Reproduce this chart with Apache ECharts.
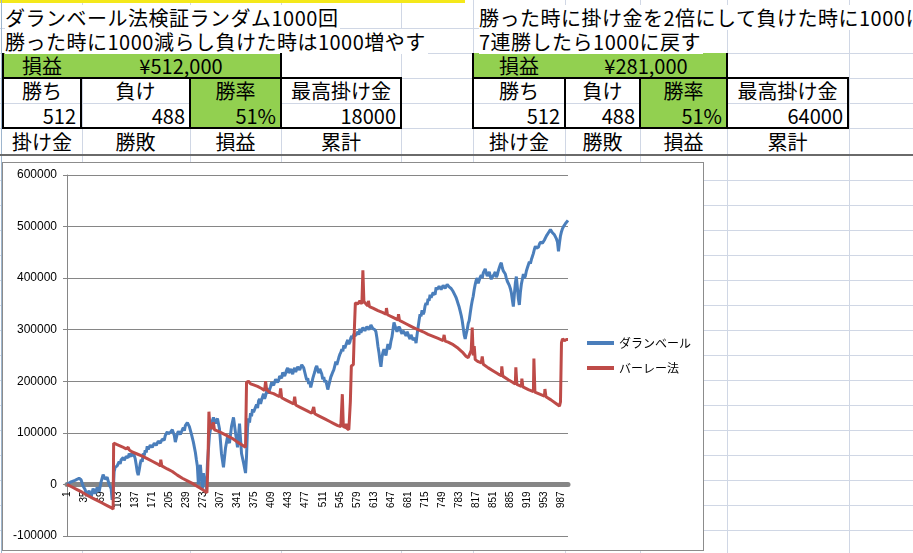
<!DOCTYPE html>
<html>
<head>
<meta charset="utf-8">
<script src="https://cdn.jsdelivr.net/npm/echarts@6/dist/echarts.min.js"></script>
<style>
  html, body { margin: 0; padding: 0; }
  body {
    width: 913px; height: 553px; overflow: hidden; position: relative;
    background: #fff; font-family: 'Noto Sans CJK JP', sans-serif; color: #000;
  }
  .gl { position: absolute; background: #d0d7e5; }
  .c {
    position: absolute; height: 25px; line-height: 25px; font-size: 20px;
    white-space: nowrap; box-sizing: border-box;
  }
  .ctr { text-align: center; }
  .rt { text-align: right; padding-right: 5px; }
  .title { background: #fff; letter-spacing: 0.5px; padding-right: 2px; }
  .green { position: absolute; background: #92d050; }
  .bl { position: absolute; background: #000; }
  #chartBox {
    position: absolute; left: 2px; top: 162px; width: 702px; height: 389px;
    border: 1px solid #8c8c8c; box-sizing: border-box; background: #fff;
  }
  #chart { width: 700px; height: 387px; }
</style>
</head>
<body>
<div id="sheet"></div>

<!-- yellow selection edge -->
<div style="position:absolute;left:0;top:0;width:465px;height:3px;background:#f4e81a;"></div>
<div style="position:absolute;left:1px;top:0;width:1px;height:553px;background:#9eb6ce;"></div>

<!-- green fills -->
<div class="green" style="left:3px;top:53px;width:278px;height:25px;"></div>
<div class="green" style="left:190px;top:78px;width:91px;height:50px;"></div>
<div class="green" style="left:473px;top:53px;width:254px;height:25px;"></div>
<div class="green" style="left:640px;top:78px;width:87px;height:50px;"></div>

<!-- left block -->
<div class="c title" style="left:5px;top:5px;">ダランベール法検証ランダム1000回</div>
<div class="c title" style="left:5px;top:29px;">勝った時に1000減らし負けた時は1000増やす</div>
<div class="c ctr" style="left:3px;top:53px;width:78px;">損益</div>
<div class="c ctr" style="left:81px;top:53px;width:200px;">¥512,000</div>
<div class="c ctr" style="left:3px;top:78px;width:78px;">勝ち</div>
<div class="c ctr" style="left:81px;top:78px;width:109px;">負け</div>
<div class="c ctr" style="left:190px;top:78px;width:91px;">勝率</div>
<div class="c ctr" style="left:281px;top:78px;width:120px;">最高掛け金</div>
<div class="c rt" style="left:3px;top:103px;width:78px;">512</div>
<div class="c rt" style="left:81px;top:103px;width:109px;">488</div>
<div class="c rt" style="left:190px;top:103px;width:91px;">51%</div>
<div class="c rt" style="left:281px;top:103px;width:120px;">18000</div>
<div class="c ctr" style="left:3px;top:129px;width:78px;">掛け金</div>
<div class="c ctr" style="left:81px;top:129px;width:109px;">勝敗</div>
<div class="c ctr" style="left:190px;top:129px;width:91px;">損益</div>
<div class="c ctr" style="left:281px;top:129px;width:120px;">累計</div>

<!-- right block -->
<div class="c title" style="left:479px;top:5px;">勝った時に掛け金を2倍にして負けた時に1000に戻す</div>
<div class="c title" style="left:479px;top:29px;">7連勝したら1000に戻す</div>
<div class="c ctr" style="left:473px;top:53px;width:92px;">損益</div>
<div class="c ctr" style="left:565px;top:53px;width:162px;">¥281,000</div>
<div class="c ctr" style="left:473px;top:78px;width:92px;">勝ち</div>
<div class="c ctr" style="left:565px;top:78px;width:75px;">負け</div>
<div class="c ctr" style="left:640px;top:78px;width:87px;">勝率</div>
<div class="c ctr" style="left:727px;top:78px;width:121px;">最高掛け金</div>
<div class="c rt" style="left:473px;top:103px;width:92px;">512</div>
<div class="c rt" style="left:565px;top:103px;width:75px;">488</div>
<div class="c rt" style="left:640px;top:103px;width:87px;">51%</div>
<div class="c rt" style="left:727px;top:103px;width:121px;">64000</div>
<div class="c ctr" style="left:473px;top:129px;width:92px;">掛け金</div>
<div class="c ctr" style="left:565px;top:129px;width:75px;">勝敗</div>
<div class="c ctr" style="left:640px;top:129px;width:87px;">損益</div>
<div class="c ctr" style="left:727px;top:129px;width:121px;">累計</div>

<!-- table borders -->
<div class="bl" style="left:2px;top:77px;width:400px;height:2px;"></div>
<div class="bl" style="left:2px;top:127px;width:400px;height:2px;"></div>
<div class="bl" style="left:2px;top:53px;width:2px;height:75px;"></div>
<div class="bl" style="left:80px;top:78px;width:2px;height:50px;"></div>
<div class="bl" style="left:189px;top:78px;width:2px;height:50px;"></div>
<div class="bl" style="left:280px;top:53px;width:2px;height:75px;"></div>
<div class="bl" style="left:400px;top:78px;width:2px;height:50px;"></div>
<div class="bl" style="left:472px;top:77px;width:377px;height:2px;"></div>
<div class="bl" style="left:472px;top:127px;width:377px;height:2px;"></div>
<div class="bl" style="left:472px;top:53px;width:2px;height:75px;"></div>
<div class="bl" style="left:564px;top:78px;width:2px;height:50px;"></div>
<div class="bl" style="left:639px;top:78px;width:2px;height:50px;"></div>
<div class="bl" style="left:726px;top:53px;width:2px;height:75px;"></div>
<div class="bl" style="left:847px;top:78px;width:2px;height:50px;"></div>

<div style="position:absolute;left:0;top:154px;width:913px;height:2px;background:#6a6a6a;"></div>

<div id="chartBox"><div id="chart"></div></div>

<script>
// 1..1000 trial numbers
const categories = Array.from({ length: 1000 }, (_, i) => String(i + 1));

// [trial index, cumulative profit]
const dalembert = [
  [0,0],[8,5000],[16,8000],[24,12000],[28,9000],[32,-3000],[36,-10000],[40,-22000],[44,-12000],[48,-25000],
  [52,-8000],[56,-18000],[60,-6000],[64,-14000],[68,5000],[72,19000],[76,10000],[80,14000],[84,0],[88,-8000],
  [90,-30000],[92,-18000],[94,25000],[96,33000],[98,30000],[100,36000],[102,34000],[104,44000],[106,40000],[108,48000],
  [110,45000],[112,52000],[114,47000],[116,50000],[118,54000],[120,56000],[122,52000],[124,60000],[126,57000],[128,54000],
  [130,60000],[132,62000],[134,56000],[136,50000],[138,38000],[140,25000],[142,18000],[144,28000],[146,40000],[148,48000],
  [150,44000],[152,60000],[154,56000],[156,66000],[158,62000],[160,74000],[162,68000],[164,70000],[166,76000],[168,79000],
  [170,72000],[172,75000],[174,80000],[176,82000],[178,76000],[180,78000],[182,84000],[184,86000],[186,80000],[188,83000],
  [190,88000],[192,90000],[194,86000],[196,95000],[198,92000],[200,102000],[202,98000],[204,96000],[206,101000],[208,100000],
  [210,106000],[212,104000],[214,95000],[216,82000],[218,90000],[220,98000],[222,103000],[224,106000],[226,97000],[228,100000],
  [230,106000],[232,110000],[234,104000],[236,114000],[238,116000],[240,120000],[242,118000],[244,112000],[248,98000],[252,82000],
  [256,62000],[258,48000],[260,35000],[262,0],[264,25000],[266,38000],[268,12000],[270,-8000],[272,22000],[274,6000],
  [276,15000],[278,-10000],[280,40000],[284,95000],[288,118000],[292,130000],[296,118000],[300,128000],[304,108000],[308,60000],
  [312,33000],[316,70000],[320,92000],[324,80000],[328,112000],[332,130000],[336,100000],[340,72000],[344,118000],[348,60000],
  [352,42000],[356,22000],[358,55000],[360,110000],[362,128000],[364,120000],[366,138000],[368,132000],[370,146000],[372,140000],
  [374,138000],[376,150000],[378,155000],[380,148000],[382,162000],[384,166000],[386,156000],[388,164000],[390,170000],[392,176000],
  [394,166000],[396,172000],[398,180000],[400,186000],[402,176000],[404,184000],[406,190000],[408,198000],[410,200000],[412,192000],
  [414,194000],[416,204000],[418,206000],[420,198000],[422,202000],[424,210000],[426,212000],[428,206000],[430,217000],[432,220000],
  [434,210000],[436,216000],[438,222000],[440,226000],[442,216000],[444,220000],[446,224000],[448,218000],[450,214000],[452,222000],
  [454,226000],[456,218000],[458,220000],[460,228000],[462,230000],[464,222000],[466,224000],[468,232000],[470,234000],[472,226000],
  [474,218000],[476,210000],[478,202000],[480,206000],[482,195000],[484,200000],[486,188000],[488,196000],[490,205000],[492,212000],
  [494,218000],[496,226000],[498,230000],[500,222000],[502,216000],[504,224000],[506,226000],[508,214000],[510,204000],[512,208000],
  [514,198000],[516,202000],[518,205000],[520,184000],[522,192000],[524,200000],[526,208000],[528,213000],[530,218000],[532,222000],
  [534,230000],[536,238000],[538,232000],[540,234000],[542,246000],[544,252000],[546,256000],[548,262000],[550,258000],[552,270000],
  [554,264000],[556,266000],[558,276000],[560,280000],[562,272000],[564,276000],[566,284000],[568,288000],[570,282000],[572,292000],
  [574,288000],[576,285000],[578,292000],[580,296000],[582,290000],[584,302000],[586,294000],[588,297000],[590,304000],[592,306000],
  [594,298000],[596,300000],[598,306000],[600,308000],[602,300000],[604,302000],[606,309000],[608,310000],[610,302000],[612,305000],
  [614,300000],[616,296000],[618,284000],[620,268000],[622,256000],[624,240000],[626,228000],[628,246000],[630,256000],[632,262000],
  [634,256000],[636,250000],[638,262000],[640,272000],[642,262000],[644,266000],[646,278000],[648,286000],[650,300000],[652,314000],
  [654,308000],[656,305000],[658,296000],[660,298000],[662,306000],[664,302000],[666,296000],[668,292000],[670,298000],[672,300000],
  [674,292000],[676,288000],[678,296000],[680,292000],[682,286000],[684,282000],[686,290000],[688,288000],[690,280000],[692,278000],
  [694,284000],[696,274000],[698,290000],[700,304000],[702,318000],[704,330000],[706,326000],[708,338000],[710,330000],[712,334000],
  [714,346000],[716,352000],[718,348000],[720,360000],[722,356000],[724,368000],[726,362000],[728,364000],[730,372000],[732,374000],
  [734,368000],[736,382000],[738,378000],[740,376000],[742,384000],[744,385000],[746,378000],[748,380000],[750,386000],[752,388000],
  [754,380000],[756,382000],[758,388000],[760,390000],[762,383000],[764,385000],[766,380000],[768,378000],[770,374000],[772,371000],
  [774,366000],[776,362000],[778,356000],[780,350000],[782,344000],[784,336000],[786,328000],[788,318000],[790,304000],[792,290000],
  [794,282000],[796,292000],[798,300000],[800,312000],[802,318000],[804,332000],[806,345000],[808,356000],[810,365000],[812,378000],
  [814,388000],[816,396000],[818,400000],[820,390000],[822,392000],[824,402000],[826,406000],[828,400000],[830,410000],[832,414000],
  [834,418000],[836,410000],[838,404000],[840,408000],[842,412000],[844,404000],[846,398000],[848,402000],[850,400000],[852,408000],
  [854,412000],[856,402000],[858,406000],[860,414000],[862,420000],[864,426000],[866,430000],[868,420000],[870,414000],[872,416000],
  [874,408000],[876,400000],[878,394000],[880,392000],[882,386000],[884,380000],[886,372000],[888,358000],[890,345000],[892,368000],
  [894,390000],[896,403000],[898,382000],[900,360000],[902,348000],[904,372000],[906,388000],[908,398000],[910,408000],[912,400000],
  [914,404000],[916,414000],[918,420000],[920,426000],[922,432000],[924,428000],[926,436000],[928,442000],[930,448000],[932,456000],
  [934,462000],[936,458000],[938,455000],[940,460000],[942,466000],[944,470000],[946,472000],[948,468000],[950,466000],[952,474000],
  [954,478000],[956,482000],[958,484000],[960,488000],[962,489000],[964,494000],[966,492000],[968,488000],[970,486000],[972,484000],
  [974,480000],[976,476000],[978,470000],[980,452000],[982,468000],[984,482000],[986,490000],[988,496000],[990,500000],[992,502000],
  [994,506000],[996,508000],[999,512000]
];

const parlay = [
  [0,0],[10,-5000],[20,-10000],[30,-15000],[40,-21000],[50,-26000],[60,-31000],[70,-36000],[80,-41000],[88,-45000],
  [92,-48000],[93,80000],[96,79000],[100,77000],[110,73000],[118,69000],[122,72000],[124,67000],[130,63000],[140,59000],
  [150,55000],[160,50000],[170,45000],[180,40000],[186,36000],[187,48000],[189,36000],[190,35000],[200,30000],[210,25000],
  [220,18000],[230,12000],[240,7000],[250,2000],[260,-4000],[270,-10000],[279,-16000],[281,40000],[283,141000],[285,112000],
  [288,108000],[290,110000],[292,120000],[294,106000],[300,104000],[310,99000],[320,94000],[330,89000],[340,82000],[350,76000],
  [356,72000],[358,198000],[362,200000],[366,195000],[372,193000],[380,190000],[388,186000],[394,182000],[396,200000],[398,184000],
  [405,178000],[412,176000],[420,172000],[424,170000],[426,186000],[428,168000],[436,164000],[444,160000],[452,156000],[454,170000],
  [456,154000],[464,150000],[472,146000],[480,142000],[488,138000],[492,150000],[494,137000],[500,134000],[508,130000],[516,126000],
  [524,122000],[532,118000],[540,114000],[546,112000],[549,175000],[551,112000],[556,110000],[557,118000],[558,109000],[562,106000],
  [565,160000],[567,230000],[571,232000],[573,300000],[575,352000],[580,350000],[584,356000],[588,350000],[590,415000],[592,355000],
  [596,350000],[600,346000],[601,356000],[603,345000],[610,342000],[620,337000],[630,333000],[636,330000],[637,342000],[639,329000],
  [650,324000],[660,319000],[661,330000],[663,318000],[675,312000],[685,307000],[695,302000],[700,300000],[710,296000],[720,291000],
  [730,287000],[740,283000],[750,279000],[752,290000],[754,278000],[760,276000],[770,271000],[780,264000],[790,255000],[796,248000],
  [800,246000],[806,260000],[808,304000],[810,250000],[812,268000],[814,242000],[820,238000],[826,236000],[828,248000],[830,233000],
  [840,226000],[850,220000],[860,214000],[866,211000],[867,229000],[869,210000],[880,203000],[890,197000],[894,195000],[895,227000],
  [897,194000],[906,190000],[907,205000],[909,189000],[920,184000],[930,180000],[931,244000],[933,179000],[945,174000],[952,171000],
  [953,185000],[955,170000],[965,164000],[975,157000],[982,152000],[984,160000],[986,275000],[988,282000],[992,279000],[996,281000],
  [999,281000]
];

const yTicks = { min: -100000, max: 600000, step: 100000 };

// spreadsheet grid behind everything
const colLines = [82, 190, 281, 401, 473, 565, 640, 727, 849];
const rowLines = [28, 53, 78, 103, 128, 180, 205, 230, 255, 280, 305, 330, 355, 380, 405, 430, 455, 480, 505, 530, 555];
const sheet = document.getElementById('sheet');
colLines.forEach(x => {
  const d = document.createElement('div');
  d.className = 'gl';
  d.style.cssText = `left:${x}px;top:0;width:1px;height:553px;`;
  sheet.appendChild(d);
});
rowLines.forEach(y => {
  const d = document.createElement('div');
  d.className = 'gl';
  d.style.cssText = `left:0;top:${y}px;width:913px;height:1px;`;
  sheet.appendChild(d);
});

// plot box inside the chart div
const plot = { left: 64, right: 135, top: 12, bottom: 14, width: 700, height: 387 };
const plotH = plot.height - plot.top - plot.bottom;
// the category axis sits on the zero line: lift it from the bottom edge
const zeroLift = plotH * (0 - yTicks.min) / (yTicks.max - yTicks.min);

const chart = echarts.init(document.getElementById('chart'));
chart.setOption({
  animation: false,
  grid: { left: plot.left, right: plot.right, top: plot.top, bottom: plot.bottom, containLabel: false, outerBoundsMode: 'none' },
  legend: {
    orient: 'vertical',
    left: 579,
    top: 167,
    icon: 'rect',
    itemWidth: 27,
    itemHeight: 4,
    itemGap: 9,
    textStyle: { fontFamily: 'Noto Sans CJK JP', fontSize: 12, color: '#000', lineHeight: 16 },
    data: ['ダランベール', 'バーレー法']
  },
  xAxis: {
    type: 'category',
    data: categories,
    boundaryGap: false,
    position: 'bottom',
    offset: -zeroLift,
    axisLine: { onZero: false, lineStyle: { color: '#868686', width: 5 } },
    axisTick: { show: false },
    axisLabel: {
      interval: 33, rotate: 90, margin: 7,
      fontFamily: 'Liberation Sans', fontSize: 10, color: '#000'
    },
    splitLine: { show: false }
  },
  yAxis: {
    type: 'value',
    min: yTicks.min,
    max: yTicks.max,
    interval: yTicks.step,
    axisLine: { show: true, lineStyle: { color: '#868686' } },
    axisTick: { show: true, length: 4, lineStyle: { color: '#868686' } },
    axisLabel: {
      margin: 10, fontFamily: 'Liberation Sans', fontSize: 12, color: '#000',
      formatter: v => String(v)
    },
    splitLine: { lineStyle: { color: '#868686', width: 1 } }
  },
  series: [
    {
      name: 'ダランベール',
      type: 'line',
      data: dalembert,
      showSymbol: false,
      symbol: 'none',
      color: '#4a7ebb',
      lineStyle: { width: 3, color: '#4a7ebb' }
    },
    {
      name: 'バーレー法',
      type: 'line',
      data: parlay,
      showSymbol: false,
      symbol: 'none',
      color: '#be4b48',
      lineStyle: { width: 3, color: '#be4b48' }
    }
  ]
});
</script>
</body>
</html>
